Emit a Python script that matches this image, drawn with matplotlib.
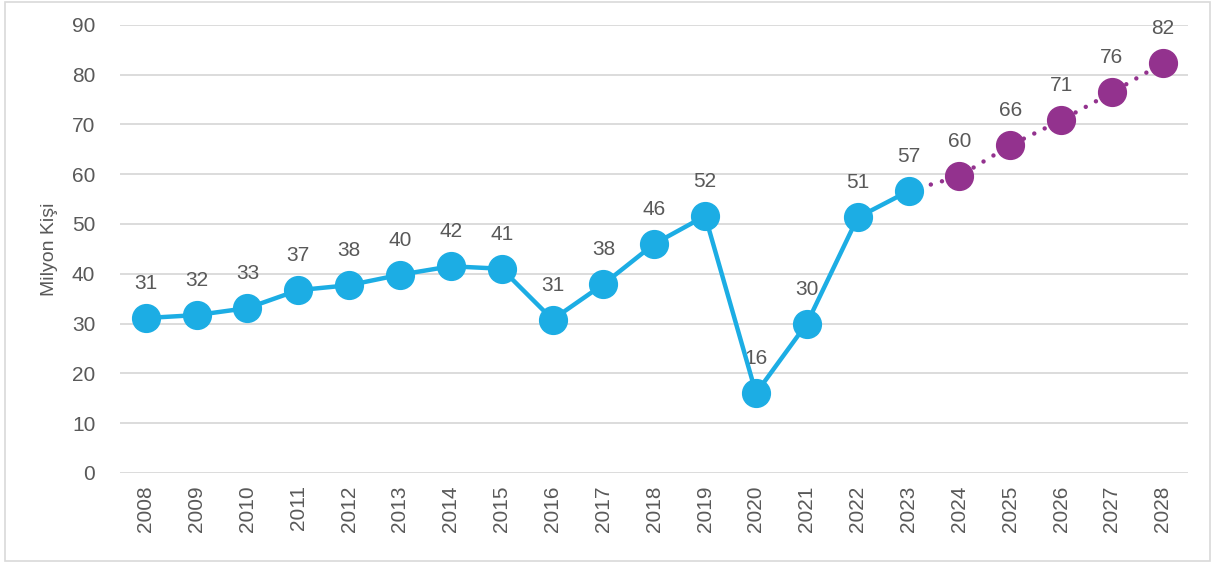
import matplotlib

matplotlib.use("Agg")
import matplotlib.pyplot as plt
from matplotlib.patches import Rectangle

years = [str(y) for y in range(2008, 2029)]
actual = [31.1, 31.7, 33.1, 36.7, 37.7, 39.8, 41.5, 41.0, 30.8, 37.9, 46.0,
          51.6, 16.0, 30.0, 51.3, 56.6]
forecast = [56.6, 59.6, 65.8, 70.8, 76.4, 82.3]  # starts at 2023 to join the lines
labels = ["31", "32", "33", "37", "38", "40", "42", "41", "31", "38", "46",
          "52", "16", "30", "51", "57", "60", "66", "71", "76", "82"]

cyan = "#1cade4"
purple = "#93328e"
grey = "#595959"

plt.rcParams["font.family"] = ["Liberation Sans", "DejaVu Sans"]

fig = plt.figure(figsize=(12.15, 5.63), dpi=100)
ax = fig.add_axes([0.099, 0.160, 0.879, 0.796])

x_act = list(range(len(actual)))
x_fc = list(range(len(actual) - 1, len(years)))

ax.plot(x_fc, forecast, color=purple, lw=3.2, linestyle=(0, (0.01, 2.6)),
        dash_capstyle="round", zorder=2)
ax.plot(x_fc[1:], forecast[1:], "o", color=purple, ms=20, zorder=3)
ax.plot(x_act, actual, color=cyan, lw=3.2, marker="o", ms=20, zorder=4)

values = actual + forecast[1:]
for i, (v, t) in enumerate(zip(values, labels)):
    ax.annotate(t, (i, v), xytext=(0, 18), textcoords="offset points",
                ha="center", va="bottom", fontsize=15, color=grey)

ax.set_ylim(0, 90)
ax.set_xlim(-0.5, len(years) - 0.5)
ax.set_yticks(range(0, 91, 10))
ax.set_xticks(range(len(years)))
ax.set_xticklabels(years, rotation=90)
ax.tick_params(axis="both", length=0, labelsize=15, colors=grey)
ax.tick_params(axis="y", pad=18)
ax.tick_params(axis="x", pad=9)
ax.yaxis.grid(True, color="#d9d9d9", lw=1.3)
ax.set_axisbelow(True)
for s in ax.spines.values():
    s.set_visible(False)
ax.set_ylabel("Milyon Kişi", fontsize=14, color=grey, labelpad=10)

fig.patches.append(Rectangle((0.004, 0.004), 0.992, 0.992, transform=fig.transFigure,
                             fill=False, edgecolor="#d9d9d9", lw=1.2))

fig.savefig("out.png", dpi=100)
